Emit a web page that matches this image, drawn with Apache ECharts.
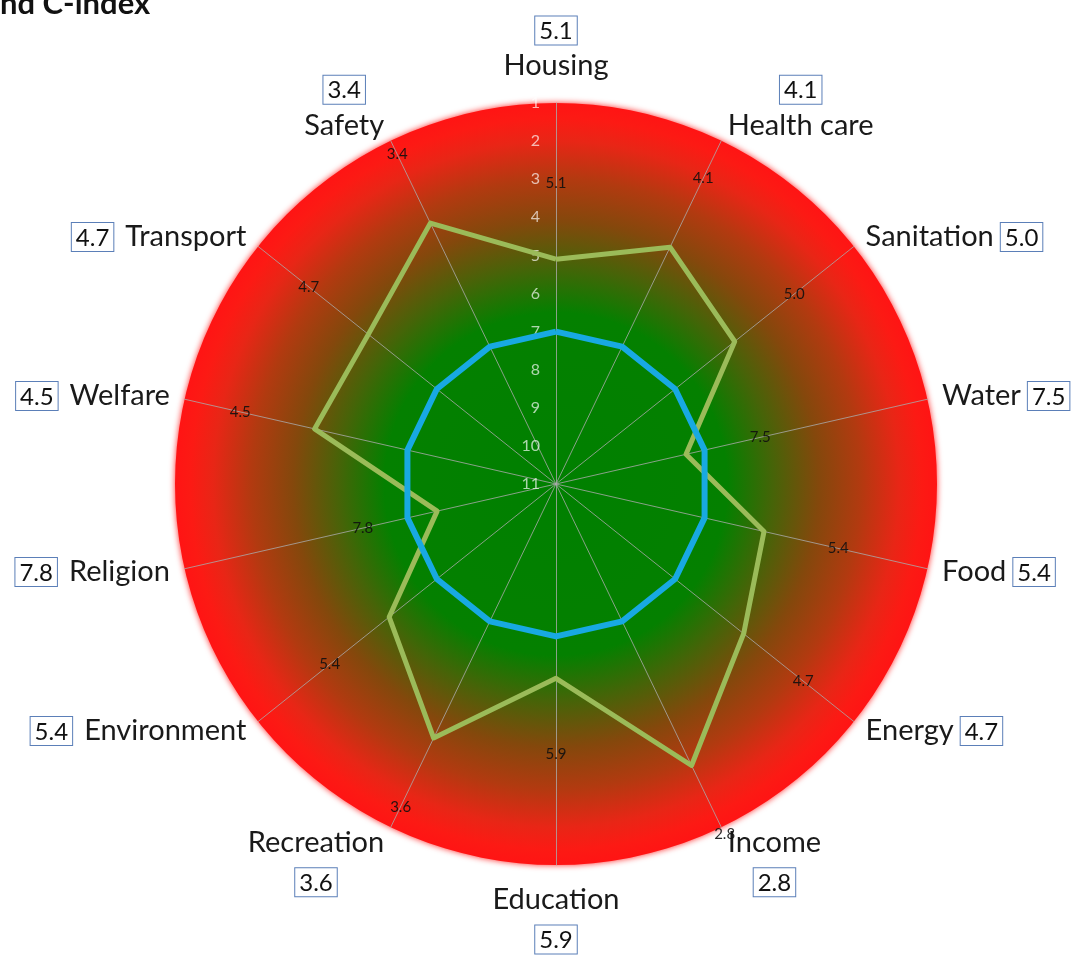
<!DOCTYPE html>
<html>
<head>
<meta charset="utf-8">
<script src="https://cdn.jsdelivr.net/npm/echarts@6/dist/echarts.min.js"></script>
<style>
html,body{margin:0;padding:0;background:#ffffff;}
#chart{width:1076px;height:959px;}
</style>
</head>
<body>
<div id="chart"></div>
<script>
// ---- data (clockwise from top) ----
const categories = ['Housing','Health care','Sanitation','Water','Food','Energy','Income','Education','Recreation','Environment','Religion','Welfare','Transport','Safety'];
const scores = [5.1, 4.1, 5.0, 7.5, 5.4, 4.7, 2.8, 5.9, 3.6, 5.4, 7.8, 4.5, 4.7, 3.4];
const reference = [7, 7, 7, 7, 7, 7, 7, 7, 7, 7, 7, 7, 7, 7];
const scaleTicks = [1, 2, 3, 4, 5, 6, 7, 8, 9, 10, 11];
const titleText = 'nd C-index';
const labelShift = 2; // value labels sit two scale units outward of their point

// ---- helpers ----
const FONT = 'Lato, "Open Sans", sans-serif';
const N = categories.length;
const sMin = scaleTicks[0], sMax = scaleTicks[scaleTicks.length - 1];
const flip = v => sMin + sMax - v;            // scale runs 11 (centre) -> 1 (rim)
// ECharts radar goes counter-clockwise; reorder so categories read clockwise
const order = [0];
for (let k = N - 1; k >= 1; k--) order.push(k);

function geom(i) {
  const a = Math.PI / 2 - i * 2 * Math.PI / N;
  return { s: Math.sin(a), c: Math.cos(a) };
}

function nameFormatter(name) {
  const i = categories.indexOf(name);
  const g = geom(i);
  const box = '{b|' + scores[i].toFixed(1) + '}';
  const boxC = '{bc|' + scores[i].toFixed(1) + '}';
  const vertical = Math.abs(g.c) < 0.01;
  if (g.s > 0.85) {
    if (vertical) return boxC + '\n{ta|' + name + '}';
    return boxC + '\n{ta|' + name + '}\n{bs| }';
  }
  if (g.s < -0.85) {
    if (vertical) return '{tb|' + name + '}\n{g| }\n' + boxC;
    return '{bs2| }\n{tb|' + name + '}\n{g| }\n' + boxC;
  }
  if (g.c > 0) return '{t|' + name + '}{sr| }' + box;
  return box + '{sl| }{t|' + name + '}';
}

const indicatorMain = order.map(i => ({
  name: categories[i], min: sMin, max: sMax,
  axisLabel: { show: i === 0 }
}));
const indicatorBg = order.map(i => ({ name: categories[i], min: 0, max: 10 }));

const center = ['556', '484'];
const radius = 381;

const txt = { fontFamily: FONT, fontSize: 29, color: '#1a1a1a' };
const boxStyle = {
  fontFamily: FONT, fontSize: 24, color: '#111',
  borderColor: '#5b7fb8', borderWidth: 1, backgroundColor: '#fff',
  padding: [3, 4, 1, 4], lineHeight: 27
};

const option = {
  backgroundColor: '#ffffff',
  animation: false,
  title: {
    text: titleText, left: 0, top: -12, padding: 0,
    textStyle: { fontFamily: FONT, fontWeight: 'bold', fontSize: 31, color: '#111' }
  },
  radar: [
    {
      center: center, radius: radius, shape: 'circle', splitNumber: 1,
      indicator: indicatorBg,
      axisName: { show: false },
      axisLine: { show: false }, axisTick: { show: false }, axisLabel: { show: false },
      splitLine: { show: false },
      splitArea: {
        show: true,
        areaStyle: {
          color: [{
            type: 'radial', x: 0.5, y: 0.5, r: 0.5,
            colorStops: [
              { offset: 0, color: '#008000' },
              { offset: 0.45, color: '#048000' },
              { offset: 0.57, color: '#466408' },
              { offset: 0.69, color: '#84480c' },
              { offset: 0.80, color: '#b23a10' },
              { offset: 0.90, color: '#e82616' },
              { offset: 0.96, color: '#fc1a14' },
              { offset: 1, color: '#ff1414' }
            ]
          }],
          shadowBlur: 6, shadowColor: 'rgba(255,20,20,0.9)'
        }
      }
    },
    {
      center: center, radius: radius, shape: 'circle', splitNumber: scaleTicks.length - 1,
      indicator: indicatorMain,
      nameGap: 15,
      axisName: {
        formatter: nameFormatter,
        rich: {
          t: Object.assign({ lineHeight: 34 }, txt),
          ta: Object.assign({ lineHeight: 44, align: 'center' }, txt),
          tb: Object.assign({ lineHeight: 40, align: 'center' }, txt),
          b: boxStyle,
          bc: Object.assign({ align: 'center' }, boxStyle),
          g: { fontSize: 1, lineHeight: 6 },
          bs: { fontSize: 1, lineHeight: 31 },
          bs2: { fontSize: 1, lineHeight: 37 },
          sr: { fontSize: 1, width: 7 },
          sl: { fontSize: 1, width: 12 }
        }
      },
      splitLine: { show: false },
      splitArea: { show: false },
      axisTick: { show: false },
      axisLine: { show: true, lineStyle: { color: 'rgba(170,170,170,0.8)', width: 1 } },
      axisLabel: {
        show: false, margin: 16, fontFamily: FONT, fontSize: 16,
        color: 'rgba(255,255,255,0.68)',
        formatter: v => String(flip(v))
      }
    }
  ],
  series: [
    {
      name: 'C-index', type: 'radar', radarIndex: 1, symbol: 'none', z: 3,
      lineStyle: { color: '#9bbb59', width: 5 },
      data: [{ value: order.map(i => flip(scores[i])) }]
    },
    {
      name: 'Reference', type: 'radar', radarIndex: 1, symbol: 'none', z: 4,
      lineStyle: { color: '#18a9e2', width: 6 },
      data: [{ value: order.map(i => flip(reference[i])) }]
    },
    {
      name: 'Values', type: 'radar', radarIndex: 1, z: 5,
      symbol: 'circle', symbolSize: 1,
      itemStyle: { color: 'rgba(0,0,0,0)' },
      lineStyle: { width: 0, opacity: 0 },
      label: {
        show: true, position: 'inside',
        fontFamily: FONT, fontSize: 15, color: 'rgba(15,15,15,0.9)',
        formatter: p => (flip(p.value) + labelShift).toFixed(1)
      },
      data: [{ value: order.map(i => flip(scores[i] - labelShift)) }]
    }
  ]
};

const chart = echarts.init(document.getElementById('chart'), null, { renderer: 'canvas' });
chart.setOption(option);
</script>
</body>
</html>
